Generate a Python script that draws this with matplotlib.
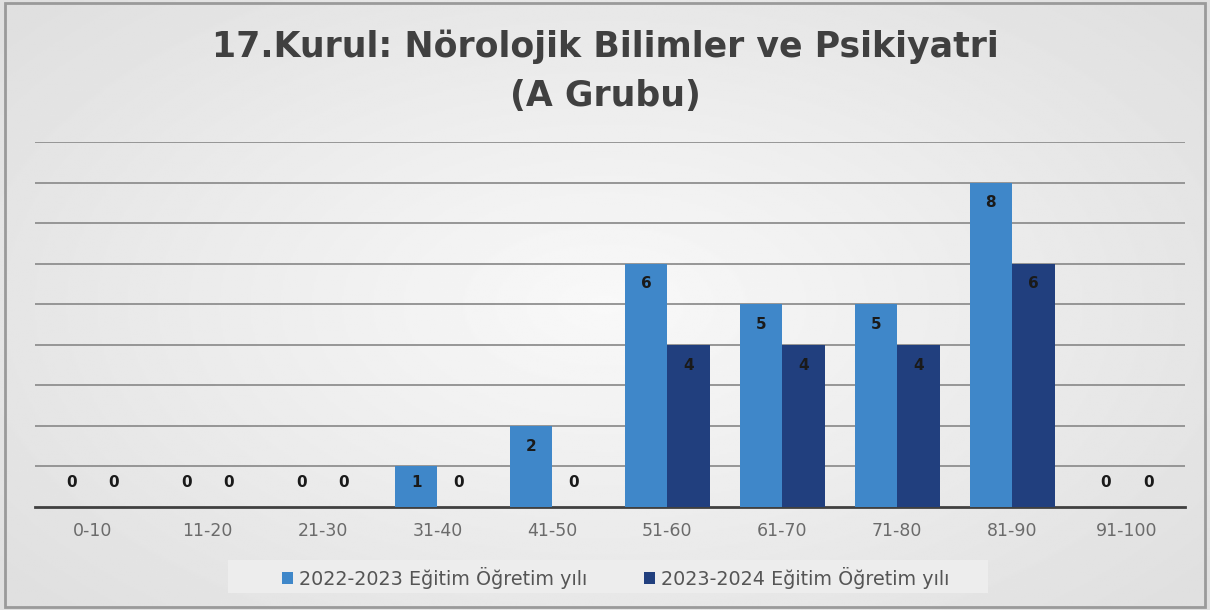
import numpy as np
import matplotlib.pyplot as plt
from matplotlib.patches import Rectangle

# data
categories = ["0-10", "11-20", "21-30", "31-40", "41-50", "51-60", "61-70", "71-80", "81-90", "91-100"]
y2022 = [0, 0, 0, 1, 2, 6, 5, 5, 8, 0]
y2023 = [0, 0, 0, 0, 0, 4, 4, 4, 6, 0]
labels = ["2022-2023 Eğitim Öğretim yılı", "2023-2024 Eğitim Öğretim yılı"]
title = "17.Kurul: Nörolojik Bilimler ve Psikiyatri\n(A Grubu)"

c_light = "#3f87c9"
c_dark = "#213f7e"

fig = plt.figure(figsize=(12.1, 6.1), dpi=100)

# background radial gradient
bg = fig.add_axes([0, 0, 1, 1], zorder=0)
yy, xx = np.mgrid[-1:1:300j, -1:1:600j]
r = np.sqrt(xx**2 + (yy * 0.9)**2)
grad = 0.975 - 0.10 * np.clip(r / 1.3, 0, 1)
bg.imshow(grad, cmap="gray", vmin=0, vmax=1, extent=[0, 1, 0, 1], aspect="auto")
bg.add_patch(Rectangle((0.004, 0.005), 0.992, 0.99, fill=False, ec="#9a9a9a", lw=2, transform=bg.transAxes))
# legend box
bg.add_patch(Rectangle((228 / 1210, 17 / 610), 760 / 1210, 33 / 610, fc="#ededed", ec="none",
                       transform=bg.transAxes))
bg.set_axis_off()

ax = fig.add_axes([0.029, 0.169, 0.950, 0.598], zorder=1)
ax.patch.set_alpha(0)

x = np.arange(len(categories))
w = 0.37
ax.bar(x - w / 2, y2022, w, color=c_light, label=labels[0], zorder=3)
ax.bar(x + w / 2, y2023, w, color=c_dark, label=labels[1], zorder=3)

for i in range(len(categories)):
    for xs, v in ((x[i] - w / 2, y2022[i]), (x[i] + w / 2, y2023[i])):
        ax.text(xs, max(v - 0.5, 0.6), str(v), ha="center", va="center",
                fontsize=11, fontweight="bold", color="#1a1a1a", zorder=4)

ax.set_xlim(-0.5, len(categories) - 0.5)
ax.set_ylim(0, 9)
ax.set_yticks(np.arange(1, 10))
ax.yaxis.grid(True, color="#8f8f8f", lw=1.3, zorder=1)
ax.tick_params(axis="y", left=False, labelleft=False)
ax.set_xticks(x)
ax.set_xticklabels(categories, fontsize=12.5, color="#6b6b6b")
ax.tick_params(axis="x", length=0, pad=11)
for s in ["top", "right", "left"]:
    ax.spines[s].set_visible(False)
ax.spines["bottom"].set_color("#404040")
ax.spines["bottom"].set_linewidth(2)

fig.text(0.5, 0.883, title, ha="center", va="center", fontsize=25, fontweight="bold",
         color="#404040", linespacing=1.55)

leg = ax.legend(loc="center", bbox_to_anchor=(0.505, -0.195), ncol=2, frameon=False,
                handlelength=0.55, handleheight=0.55, handletextpad=0.3,
                columnspacing=3.0, borderpad=0.35, borderaxespad=0,
                prop={"family": "DejaVu Sans", "size": 13.8})
for t in leg.get_texts():
    t.set_color("#555555")

fig.savefig("out.png", dpi=100)
